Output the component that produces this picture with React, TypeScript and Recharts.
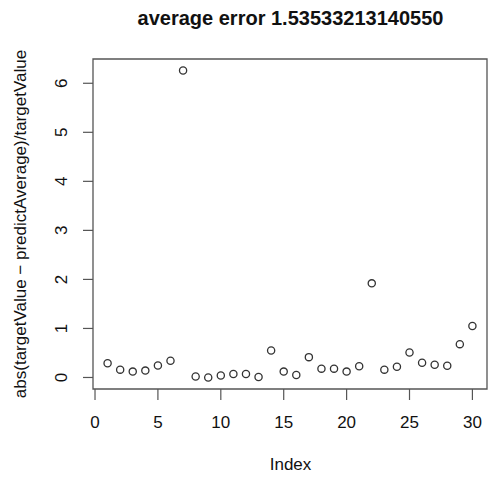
import React from "react";
import { ScatterChart, Scatter, XAxis, YAxis, ReferenceArea } from "recharts";

const indices = [1,2,3,4,5,6,7,8,9,10,11,12,13,14,15,16,17,18,19,20,21,22,23,24,25,26,27,28,29,30];
const errors = [0.29,0.16,0.12,0.14,0.245,0.34,6.26,0.02,0.0,0.04,0.07,0.07,0.01,0.55,0.12,0.05,0.415,0.18,0.18,0.12,0.23,1.92,0.16,0.22,0.51,0.30,0.26,0.24,0.68,1.05];
const xTicks = [0,5,10,15,20,25,30];
const yTicks = [0,1,2,3,4,5,6];
const titleText = "average error 1.53533213140550";
const xLabel = "Index";
const yLabel = "abs(targetValue \u2212 predictAverage)/targetValue";

const data = indices.map((x, i) => ({ x, y: errors[i] }));

const FONT = "'Liberation Sans', Arial, Helvetica, sans-serif";
const AXIS = "#555";

const XTick = (props: any) => {
  const { x, y, payload } = props;
  return (
    <text x={x} y={y + 26} textAnchor="middle" fontFamily={FONT} fontSize={17} fill="#111">
      {payload.value}
    </text>
  );
};

const YTick = (props: any) => {
  const { x, y, payload } = props;
  const tx = x - 14;
  return (
    <text x={tx} y={y} textAnchor="middle" transform={`rotate(-90, ${tx}, ${y})`} fontFamily={FONT} fontSize={17} fill="#111">
      {payload.value}
    </text>
  );
};

const Dot = (props: any) => {
  const { cx, cy } = props;
  return <circle cx={cx} cy={cy} r={3.6} fill="none" stroke="#333" strokeWidth={1.3} />;
};

export default function App() {
  return (
    <div style={{ position: "absolute", left: 0, top: 0, width: 489, height: 478, background: "#fff" }}>
      <ScatterChart width={489} height={478} margin={{ top: 59, right: 2, bottom: 0, left: 0 }}>
        <XAxis
          type="number"
          dataKey="x"
          domain={[-0.16, 31.16]}
          ticks={xTicks}
          interval={0}
          allowDataOverflow
          axisLine={false}
          tickSize={11}
          tickLine={{ stroke: AXIS, strokeWidth: 1.2 }}
          tick={<XTick />}
          height={89}
        />
        <YAxis
          type="number"
          dataKey="y"
          domain={[-0.235, 6.495]}
          ticks={yTicks}
          interval={0}
          allowDataOverflow
          axisLine={false}
          tickSize={10}
          tickLine={{ stroke: AXIS, strokeWidth: 1.2 }}
          tick={<YTick />}
          width={93}
        />
        <ReferenceArea x1={-0.16} x2={31.16} y1={-0.235} y2={6.495} fill="none" stroke={AXIS} strokeWidth={1.3} fillOpacity={0} ifOverflow="visible" />
        <Scatter data={data} shape={<Dot />} isAnimationActive={false} />
        <text x={290.5} y={25} textAnchor="middle" fontFamily={FONT} fontSize={20} fontWeight="bold" fill="#111">
          {titleText}
        </text>
        <text x={290.5} y={470} textAnchor="middle" fontFamily={FONT} fontSize={17} fill="#111">
          {xLabel}
        </text>
        <text x={26} y={224} textAnchor="middle" transform="rotate(-90, 26, 224)" fontFamily={FONT} fontSize={17} fill="#111">
          {yLabel}
        </text>
      </ScatterChart>
    </div>
  );
}
